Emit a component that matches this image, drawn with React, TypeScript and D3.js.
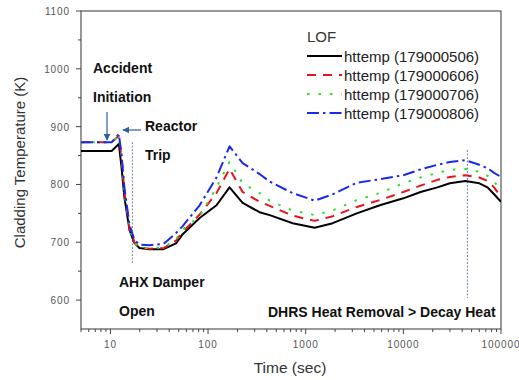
import React from "react";
import * as d3 from "d3";

const times = [5, 10.3, 12.2, 13, 13.9, 15.7, 17.6, 19.8, 25, 35, 47, 55, 82, 122, 166, 226, 337, 428, 736, 1236, 1891, 3334, 5740, 10000, 15000, 22300, 30000, 43200, 60000, 72800, 85000, 100000];
const s506 = [858, 858, 870, 830, 778, 721, 699, 690, 688, 688, 698, 714, 742, 764, 795, 768, 752, 747, 733, 725, 733, 750, 764, 776, 787, 795, 802, 806, 802, 795, 783, 770];
const s606 = [873, 873, 884, 848, 788, 724, 700, 691, 689, 690, 703, 718, 748, 785, 827, 787, 770, 763, 746, 737, 745, 761, 773, 787, 798, 808, 813, 816, 812, 806, 795, 778];
const s706 = [873, 873, 884, 848, 788, 724, 700, 691, 690, 691, 705, 722, 745, 795, 839, 802, 785, 772, 755, 747, 755, 773, 785, 802, 812, 820, 825, 827, 822, 815, 805, 790];
const s806 = [873, 873, 887, 852, 795, 730, 704, 696, 695, 697, 716, 728, 764, 812, 866, 837, 818, 805, 785, 772, 783, 803, 809, 816, 826, 834, 839, 842, 834, 828, 820, 813];

const seriesNames = ["httemp (179000506)", "httemp (179000606)", "httemp (179000706)", "httemp (179000806)"];
const seriesValues = [s506, s606, s706, s806];
const seriesColors = ["#000000", "#e8141c", "#2fe02f", "#1a2ae6"];
const seriesDash = ["none", "9,7", "2.5,9", "12,4,2.5,4"];

const yTicks = [600, 700, 800, 900, 1000, 1100];
const yMinor = [650, 750, 850, 950, 1050];
const xTicks = [10, 100, 1000, 10000, 100000];
const eventTimes = [16.8, 45300];

const W = 519, H = 380;
const L = 81, R = 501, T = 11, B = 329;

export default function App() {
  const x = d3.scaleLog().domain([5, 100000]).range([L, R]);
  const y = d3.scaleLinear().domain([550, 1100]).range([B, T]);
  const line = d3.line<[number, number]>().x(d => x(d[0])).y(d => y(d[1])).curve(d3.curveLinear);

  const xMinor: number[] = [];
  for (let e = 0; e <= 4; e++) {
    for (let k = 2; k <= 9; k++) {
      const v = k * Math.pow(10, e);
      if (v >= 5 && v < 100000) xMinor.push(v);
    }
  }

  const font = "'Liberation Sans', Arial, sans-serif";
  const arrowColor = "#2f5f95";

  return (
    <svg width={W} height={H} style={{ position: "absolute", left: 0, top: 0, background: "#fff" }} fontFamily={font}>
      <defs>
        <clipPath id="plot">
          <rect x={L} y={T} width={R - L} height={B - T} />
        </clipPath>
        <marker id="ah" viewBox="0 0 10 10" refX="9" refY="5" markerWidth="6" markerHeight="6" orient="auto-start-reverse">
          <path d="M0,0 L10,5 L0,10 z" fill={arrowColor} />
        </marker>
      </defs>

      {/* frame */}
      <rect x={L} y={T} width={R - L} height={B - T} fill="none" stroke="#555" strokeWidth={1.2} />

      {/* y ticks */}
      {yTicks.map(v => (
        <g key={"y" + v}>
          <line x1={L - 5} x2={L} y1={y(v)} y2={y(v)} stroke="#444" />
          <text x={70} y={y(v) + 4} textAnchor="end" fontSize={10} fill="#555" letterSpacing={0.9}>{v}</text>
        </g>
      ))}
      {yMinor.map(v => (
        <line key={"ym" + v} x1={L - 3} x2={L} y1={y(v)} y2={y(v)} stroke="#444" />
      ))}

      {/* x ticks */}
      {xTicks.map(v => (
        <g key={"x" + v}>
          <line x1={x(v)} x2={x(v)} y1={B} y2={B + 5} stroke="#444" />
          <text x={x(v)} y={348} textAnchor="middle" fontSize={10} fill="#555" letterSpacing={0.9}>{v}</text>
        </g>
      ))}
      {xMinor.map(v => (
        <line key={"xm" + v} x1={x(v)} x2={x(v)} y1={B} y2={B + 3} stroke="#444" />
      ))}

      {/* axis titles */}
      <text transform={`translate(25,${(73 + 252) / 2}) rotate(-90)`} textAnchor="middle" fontSize={15} fill="#333">Cladding Temperature (K)</text>
      <text x={290} y={373} textAnchor="middle" fontSize={15.5} fill="#333">Time (sec)</text>

      {/* event lines */}
      <line x1={x(eventTimes[0])} x2={x(eventTimes[0])} y1={142} y2={264} stroke="#6f87a8" strokeWidth={1} strokeDasharray="2,1.5" />
      <line x1={x(eventTimes[1])} x2={x(eventTimes[1])} y1={150} y2={298} stroke="#6f87a8" strokeWidth={1} strokeDasharray="2,1.5" />

      {/* series */}
      <g clipPath="url(#plot)">
        {seriesValues.map((vals, i) => (
          <path key={i} d={line(times.map((t, j) => [t, vals[j]]) as [number, number][]) || ""} fill="none"
            stroke={seriesColors[i]} strokeWidth={2} strokeDasharray={seriesDash[i]} strokeLinejoin="round" />
        ))}
      </g>

      {/* arrows */}
      <line x1={107} x2={107} y1={112} y2={140} stroke={arrowColor} strokeWidth={1.2} markerEnd="url(#ah)" />
      <line x1={141} x2={123} y1={130} y2={130} stroke={arrowColor} strokeWidth={1.2} markerEnd="url(#ah)" />

      {/* annotations */}
      <g fontWeight="bold" fontSize={14} fill="#111">
        <text x={93} y={73}>Accident</text>
        <text x={93} y={102}>Initiation</text>
        <text x={145} y={131}>Reactor</text>
        <text x={145} y={160}>Trip</text>
        <text x={119} y={287}>AHX Damper</text>
        <text x={119} y={316}>Open</text>
        <text x={268} y={317}>DHRS Heat Removal &gt; Decay Heat</text>
      </g>

      {/* legend */}
      <text x={307} y={42} fontSize={15} fill="#333">LOF</text>
      {seriesNames.map((n, i) => (
        <g key={n}>
          <line x1={307} x2={342} y1={56 + i * 19} y2={56 + i * 19} stroke={seriesColors[i]} strokeWidth={2} strokeDasharray={seriesDash[i]} />
          <text x={344} y={62 + i * 19} fontSize={15} fill="#222">{n}</text>
        </g>
      ))}
    </svg>
  );
}
